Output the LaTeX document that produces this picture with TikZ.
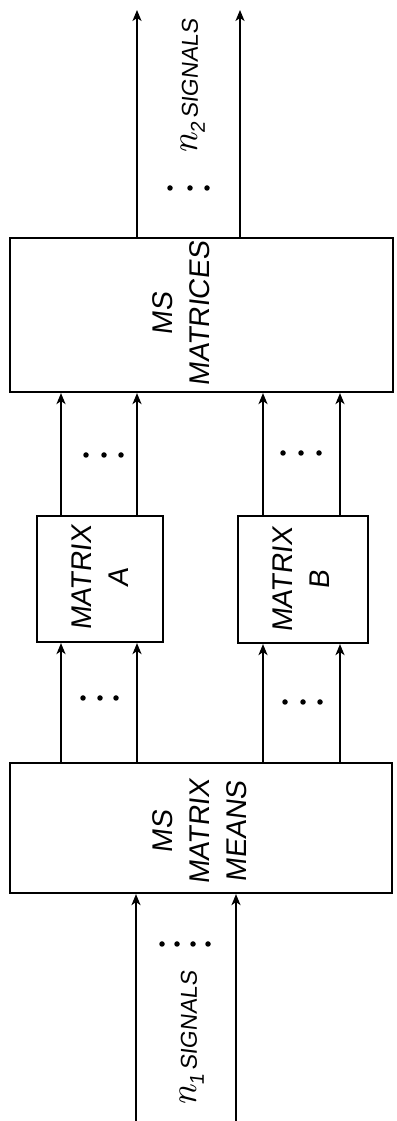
\documentclass[tikz,border=0pt]{standalone}
\usepackage{fontspec}
\newfontfamily\hand[FakeSlant=0.12]{Liberation Sans}
\newfontfamily\nfont{Latin Modern Roman}
\usetikzlibrary{arrows.meta}
\newcommand{\sigtext}[1]{{\nfont\itshape\fontsize{38}{40}\selectfont n}\raisebox{-7pt}{\hand\fontsize{20}{22}\selectfont #1}\hspace{4pt}{\hand\fontsize{23}{26}\selectfont SIGNALS}}
\begin{document}
\begin{tikzpicture}[x=1pt,y=1pt,
 box/.style={draw,line width=2.2pt,rectangle,inner sep=0pt},
 wire/.style={line width=1.8pt},
 arr/.style={wire,-{Stealth[length=11pt,width=9pt,inset=3pt]}},
 lbl/.style={rotate=90,align=center,font=\hand\fontsize{28.5}{37}\selectfont,inner sep=0pt},
 sig/.style={rotate=90,inner sep=0pt},
 dotn/.style={circle,fill,inner sep=0pt,minimum size=5.5pt}]
\useasboundingbox (0,0) rectangle (396,1121);
% boxes
\node[box,minimum width=383pt,minimum height=154pt] (top) at (201.5,806) {};
\node[box,minimum width=126pt,minimum height=126pt] (A) at (100,542) {};
\node[box,minimum width=130pt,minimum height=127pt] (B) at (303,541.5) {};
\node[box,minimum width=382pt,minimum height=130pt] (bot) at (201,293) {};
% box texts
\node[lbl] (toptxt) at (181,807) {MS\\MATRICES};
\node[lbl] (Atxt) at (100,543) {MATRIX\\A};
\node[lbl] (Btxt) at (301,541) {MATRIX\\B};
\node[lbl] (bottxt) at (200,289) {MS\\MATRIX\\MEANS};
% coordinates for wires
\coordinate (o1) at (137,1111);
\coordinate (o2) at (240,1111);
\coordinate (i1) at (136,0);
\coordinate (i2) at (236,0);
\coordinate (a1) at (61,0);
\coordinate (a2) at (137,0);
\coordinate (b1) at (263,0);
\coordinate (b2) at (340,0);
% outputs
\draw[arr] (top.north -| o1) -- (o1);
\draw[arr] (top.north -| o2) -- (o2);
% inputs
\draw[arr] (i1) -- (bot.south -| i1);
\draw[arr] (i2) -- (bot.south -| i2);
% between boxes
\foreach \c/\m in {a1/A,a2/A,b1/B,b2/B}{
  \draw[arr] (bot.north -| \c) -- (\m.south -| \c);
  \draw[arr] (\m.north -| \c) -- (top.south -| \c);
}
% dots
\foreach \x [count=\i] in {170,190,207}{\node[dotn] (dt\i) at (\x,933) {};}
\foreach \x [count=\i] in {86,104,121}{\node[dotn] (dau\i) at (\x,666) {};}
\foreach \x [count=\i] in {283,301,319}{\node[dotn] (dbu\i) at (\x,668) {};}
\foreach \x [count=\i] in {83,100,116}{\node[dotn] (dal\i) at (\x,423) {};}
\foreach \x [count=\i] in {285,303,320}{\node[dotn] (dbl\i) at (\x,419) {};}
\foreach \x [count=\i] in {162,177,193,208}{\node[dotn] (db\i) at (\x,177) {};}
% signal labels
\node[sig] (n2) at (193,1034) {\sigtext{2}};
\node[sig] (n1) at (192,82) {\sigtext{1}};
\end{tikzpicture}
\end{document}
